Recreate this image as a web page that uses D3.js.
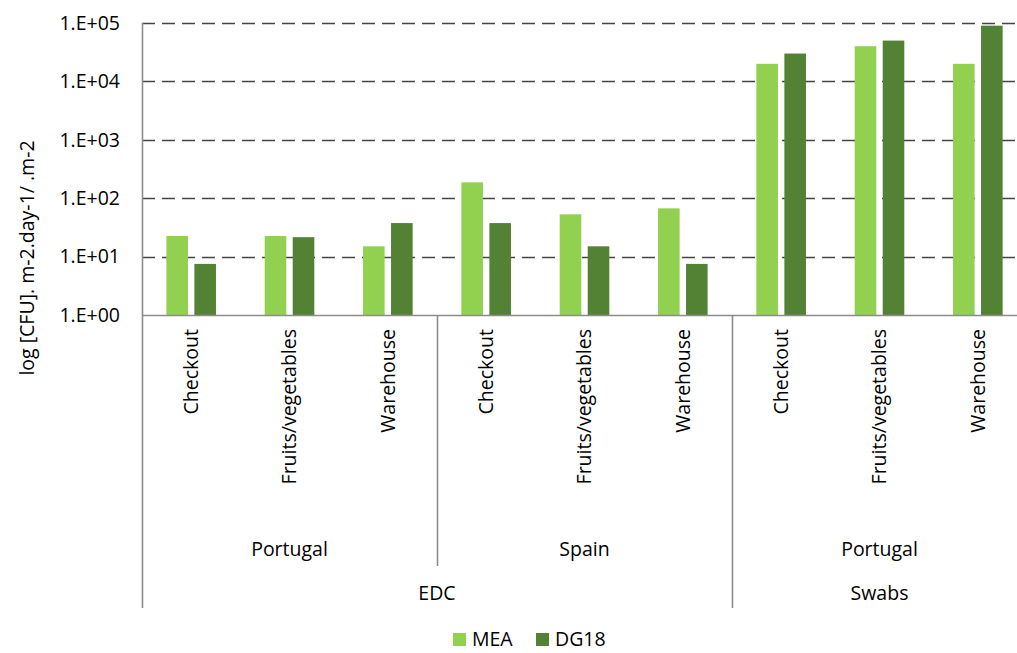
<!DOCTYPE html>
<html>
<head>
<meta charset="utf-8">
<script src="https://cdn.jsdelivr.net/npm/d3@7"></script>
<style>
  html, body { margin: 0; padding: 0; background: #fff; }
  svg { display: block; }
  text { font-family: "Open Sans", sans-serif; fill: #000; }
</style>
</head>
<body>
<svg id="chart" width="1017" height="653"></svg>
<script>
const subCategories = ["Checkout", "Fruits/vegetables", "Warehouse", "Checkout", "Fruits/vegetables", "Warehouse", "Checkout", "Fruits/vegetables", "Warehouse"];
const countries = ["Portugal", "Portugal", "Portugal", "Spain", "Spain", "Spain", "Portugal", "Portugal", "Portugal"];
const sampleTypes = ["EDC", "EDC", "EDC", "EDC", "EDC", "EDC", "Swabs", "Swabs", "Swabs"];
const seriesNames = ["MEA", "DG18"];
const meaValues = [22.5, 22.5, 15, 187, 53, 67, 20000, 40000, 20000];
const dg18Values = [7.5, 21.5, 37.5, 37.5, 15, 7.5, 30000, 50000, 90000];
const yTickValues = [1, 10, 100, 1000, 10000, 100000];
const yTickLabels = ["1.E+00", "1.E+01", "1.E+02", "1.E+03", "1.E+04", "1.E+05"];
const seriesColors = ["#92D050", "#548235"];
const yTitle = "log [CFU]. m-2.day-1/ .m-2";

(function () {
const svg = d3.select("#chart");
const FS = 19.5;
const pLeft = 142, pRight = 1027, pTop = 23, pBottom = 315;
const lvl2 = 566, lvl3 = 608;

const x0 = d3.scaleBand().domain(d3.range(subCategories.length)).range([pLeft, pRight]).padding(0);
const x1 = d3.scaleBand().domain(seriesNames).range([0, x0.bandwidth()]).paddingInner(0.229).paddingOuter(0.87);
const y = d3.scaleLog().domain([1, 100000]).range([pBottom, pTop]);

// gridlines
svg.append("g").selectAll("line").data(yTickValues.slice(1)).join("line")
  .attr("x1", pLeft).attr("x2", pRight)
  .attr("y1", d => Math.round(y(d)) + 0.5).attr("y2", d => Math.round(y(d)) + 0.5)
  .attr("stroke", "#454545").attr("stroke-width", 1.7).attr("stroke-dasharray", "13,7");

// bars
const table = subCategories.map((c, i) => ({ i, values: [meaValues[i], dg18Values[i]] }));
const groups = svg.append("g").selectAll("g").data(table).join("g")
  .attr("transform", d => `translate(${x0(d.i)},0)`);
groups.selectAll("rect").data(d => d.values.map((v, k) => ({ k, v }))).join("rect")
  .attr("x", d => x1(seriesNames[d.k]))
  .attr("width", x1.bandwidth())
  .attr("y", d => y(d.v))
  .attr("height", d => y(1) - y(d.v))
  .attr("fill", d => seriesColors[d.k]);

// y axis labels
svg.append("g").selectAll("text").data(yTickValues).join("text")
  .attr("x", 120).attr("y", d => y(d)).attr("dy", "0.35em")
  .attr("text-anchor", "end").attr("font-size", FS)
  .text((d, i) => yTickLabels[i]);

// y title
svg.append("text")
  .attr("transform", "translate(27,258) rotate(-90)")
  .attr("text-anchor", "middle").attr("dy", "0.35em").attr("font-size", FS)
  .text(yTitle);

// axes lines
const axisColor = "#8c8c8c";
svg.append("line").attr("x1", pLeft).attr("x2", pRight).attr("y1", pBottom + 0.5).attr("y2", pBottom + 0.5)
  .attr("stroke", axisColor).attr("stroke-width", 1.6);
svg.append("line").attr("x1", pLeft + 0.5).attr("x2", pLeft + 0.5).attr("y1", pTop).attr("y2", lvl3)
  .attr("stroke", axisColor).attr("stroke-width", 1.6);

// category labels (rotated)
svg.append("g").selectAll("text").data(subCategories).join("text")
  .attr("transform", (d, i) => `translate(${x0(i) + x0.bandwidth() / 2},329) rotate(-90)`)
  .attr("text-anchor", "end").attr("dy", "0.35em").attr("font-size", FS)
  .text(d => d);

function runs(keys) {
  const out = [];
  keys.forEach((k, i) => {
    if (out.length && out[out.length - 1].key === k) out[out.length - 1].end = i;
    else out.push({ key: k, start: i, end: i });
  });
  return out;
}
const countryRuns = runs(countries.map((c, i) => sampleTypes[i] + "|" + c)).map(r => ({ ...r, label: r.key.split("|")[1] }));
const typeRuns = runs(sampleTypes).map(r => ({ ...r, label: r.key }));

countryRuns.forEach((r, idx) => {
  const a = x0(r.start), b = x0(r.end) + x0.bandwidth();
  if (idx > 0) {
    const isTypeBoundary = sampleTypes[r.start] !== sampleTypes[r.start - 1];
    svg.append("line").attr("x1", a + 0.5).attr("x2", a + 0.5)
      .attr("y1", pBottom).attr("y2", isTypeBoundary ? lvl3 : lvl2)
      .attr("stroke", axisColor).attr("stroke-width", 1.6);
  }
  svg.append("text").attr("x", (a + b) / 2).attr("y", 549).attr("dy", "0.35em")
    .attr("text-anchor", "middle").attr("font-size", FS).text(r.label);
});
typeRuns.forEach(r => {
  const a = x0(r.start), b = x0(r.end) + x0.bandwidth();
  svg.append("text").attr("x", (a + b) / 2).attr("y", 593).attr("dy", "0.35em")
    .attr("text-anchor", "middle").attr("font-size", FS).text(r.label);
});

// legend
const legendX = [453, 536];
const leg = svg.append("g").selectAll("g").data(seriesNames).join("g")
  .attr("transform", (d, i) => `translate(${legendX[i]},633)`);
leg.append("rect").attr("width", 13).attr("height", 13).attr("fill", (d, i) => seriesColors[i]);
leg.append("text").attr("x", 19).attr("y", 6.5).attr("dy", "0.35em").attr("font-size", FS).text(d => d);
})();
</script>
</body>
</html>
